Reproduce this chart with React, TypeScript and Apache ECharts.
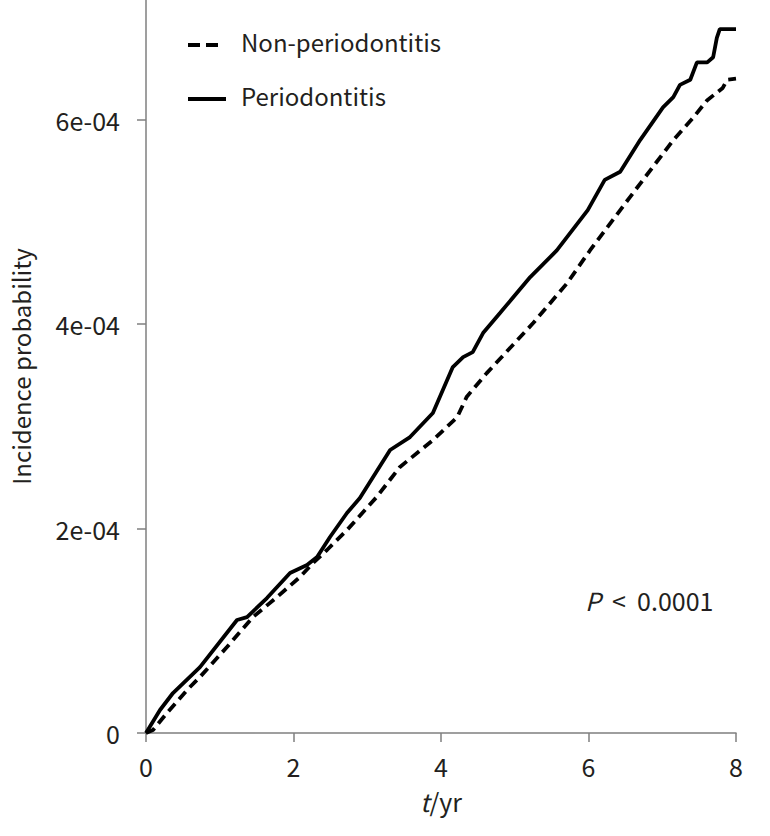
import React, { useEffect, useRef } from "react";
import * as echarts from "echarts";

const FONT = "'Noto Sans CJK SC', 'Noto Sans', sans-serif";
const TEXT_COLOR = "#231f20";
const AXIS_COLOR = "#7f7f7f";

const seriesNames = ["Non-periodontitis", "Periodontitis"];

// Non-periodontitis: [year, incidence probability]
const nonPeriodontitis: [number, number][] = [
  [0, 0], [0.095, 2.9e-6], [0.285, 1.96e-5], [0.556, 4.2e-5], [0.732, 5.48e-5],
  [1.098, 8.41e-5], [1.45, 1.134e-4], [1.776, 1.33e-4], [2.088, 1.526e-4],
  [2.264, 1.663e-4], [2.454, 1.79e-4], [2.725, 1.985e-4], [3.13, 2.31e-4],
  [3.44, 2.6e-4], [3.89, 2.865e-4], [4.22, 3.09e-4], [4.35, 3.29e-4],
  [4.62, 3.52e-4], [5.25, 4.01e-4], [5.71, 4.4e-4], [6.02, 4.72e-4],
  [6.56, 5.24e-4], [7.15, 5.8e-4], [7.42, 6.02e-4], [7.61, 6.19e-4],
  [7.82, 6.31e-4], [7.88, 6.39e-4], [8.0, 6.4e-4],
];

// Periodontitis: [year, incidence probability]
const periodontitis: [number, number][] = [
  [0, 0], [0.19, 2.25e-5], [0.366, 3.91e-5], [0.732, 6.45e-5], [1.234, 1.105e-4],
  [1.37, 1.134e-4], [1.64, 1.32e-4], [1.953, 1.565e-4], [2.183, 1.643e-4],
  [2.32, 1.721e-4], [2.495, 1.917e-4], [2.725, 2.152e-4], [2.9, 2.298e-4],
  [3.31, 2.768e-4], [3.58, 2.895e-4], [3.89, 3.13e-4], [4.16, 3.58e-4],
  [4.3, 3.677e-4], [4.43, 3.726e-4], [4.57, 3.912e-4], [4.8, 4.108e-4],
  [5.21, 4.46e-4], [5.57, 4.72e-4], [5.99, 5.115e-4], [6.22, 5.41e-4],
  [6.43, 5.49e-4], [6.7, 5.8e-4], [7.01, 6.12e-4], [7.15, 6.22e-4],
  [7.24, 6.34e-4], [7.38, 6.39e-4], [7.47, 6.56e-4], [7.61, 6.56e-4],
  [7.69, 6.61e-4], [7.74, 6.8e-4], [7.78, 6.885e-4], [8.0, 6.885e-4],
];

const yTicks = [0, 2e-4, 4e-4, 6e-4];
const xTicks = [0, 2, 4, 6, 8];
const pText = "<  0.0001";

function fmtY(v: number): string {
  if (Math.abs(v) < 1e-12) return "0";
  const m = Math.round(v * 1e4);
  return `${m}e-04`;
}

export default function App() {
  const ref = useRef<HTMLDivElement>(null);
  useEffect(() => {
    if (!ref.current) return;
    const chart = echarts.init(ref.current, undefined, { renderer: "svg" });
    chart.setOption({
      animation: false,
      backgroundColor: "#ffffff",
      textStyle: { fontFamily: FONT },
      grid: { left: 146, right: 34, top: 0, bottom: 103, containLabel: false, outerBoundsMode: "none" },
      xAxis: {
        type: "value",
        min: 0,
        max: 8,
        interval: 2,
        name: "{i|t}/yr",
        nameLocation: "middle",
        nameGap: 55,
        nameTextStyle: {
          fontFamily: FONT,
          fontSize: 25,
          color: TEXT_COLOR,
          rich: { i: { fontStyle: "italic", fontFamily: FONT, fontSize: 25, color: TEXT_COLOR } },
        },
        axisLine: { show: true, lineStyle: { color: AXIS_COLOR, width: 1.5 } },
        axisTick: { show: true, length: 9, lineStyle: { color: AXIS_COLOR, width: 1.5 }, customValues: xTicks },
        axisLabel: { fontFamily: FONT, fontSize: 25, color: TEXT_COLOR, margin: 20, customValues: xTicks },
        splitLine: { show: false },
      },
      yAxis: {
        type: "value",
        min: 0,
        max: 7.17e-4,
        name: "Incidence probability",
        nameLocation: "middle",
        nameGap: 114,
        nameTextStyle: { fontFamily: FONT, fontSize: 24, color: TEXT_COLOR },
        axisLine: { show: true, lineStyle: { color: AXIS_COLOR, width: 1.5 } },
        axisTick: { show: true, length: 9, lineStyle: { color: AXIS_COLOR, width: 1.5 }, customValues: yTicks },
        axisLabel: { fontFamily: FONT, fontSize: 25, color: TEXT_COLOR, margin: 26, formatter: fmtY, customValues: yTicks },
        splitLine: { show: false },
      },
      series: [
        {
          name: seriesNames[0],
          type: "line",
          data: nonPeriodontitis,
          symbol: "none",
          showSymbol: false,
          color: "#000000",
          lineStyle: { color: "#000000", width: 3.8, type: [10, 6] },
        },
        {
          name: seriesNames[1],
          type: "line",
          data: periodontitis,
          symbol: "none",
          showSymbol: false,
          color: "#000000",
          lineStyle: { color: "#000000", width: 3.8 },
        },
      ],
      graphic: [
        {
          type: "line",
          shape: { x1: 188, y1: 45, x2: 218, y2: 45 },
          style: { stroke: "#000000", lineWidth: 4, lineDash: [12, 6] },
        },
        {
          type: "text",
          left: 241,
          top: 29,
          style: { text: seriesNames[0], font: `24px ${FONT}`, fill: TEXT_COLOR },
        },
        {
          type: "line",
          shape: { x1: 188, y1: 99, x2: 226, y2: 99 },
          style: { stroke: "#000000", lineWidth: 4 },
        },
        {
          type: "text",
          left: 241,
          top: 83,
          style: { text: seriesNames[1], font: `24px ${FONT}`, fill: TEXT_COLOR },
        },
        {
          type: "text",
          left: 585,
          top: 587,
          style: {
            text: "{i|P}  " + pText,
            font: `25px ${FONT}`,
            fill: TEXT_COLOR,
            rich: { i: { fontStyle: "italic", fontSize: 25, fontFamily: FONT, fill: TEXT_COLOR } },
          },
        },
      ],
    });
    return () => chart.dispose();
  }, []);
  return <div ref={ref} style={{ position: "fixed", left: 0, top: 0, width: 770, height: 836 }} />;
}
